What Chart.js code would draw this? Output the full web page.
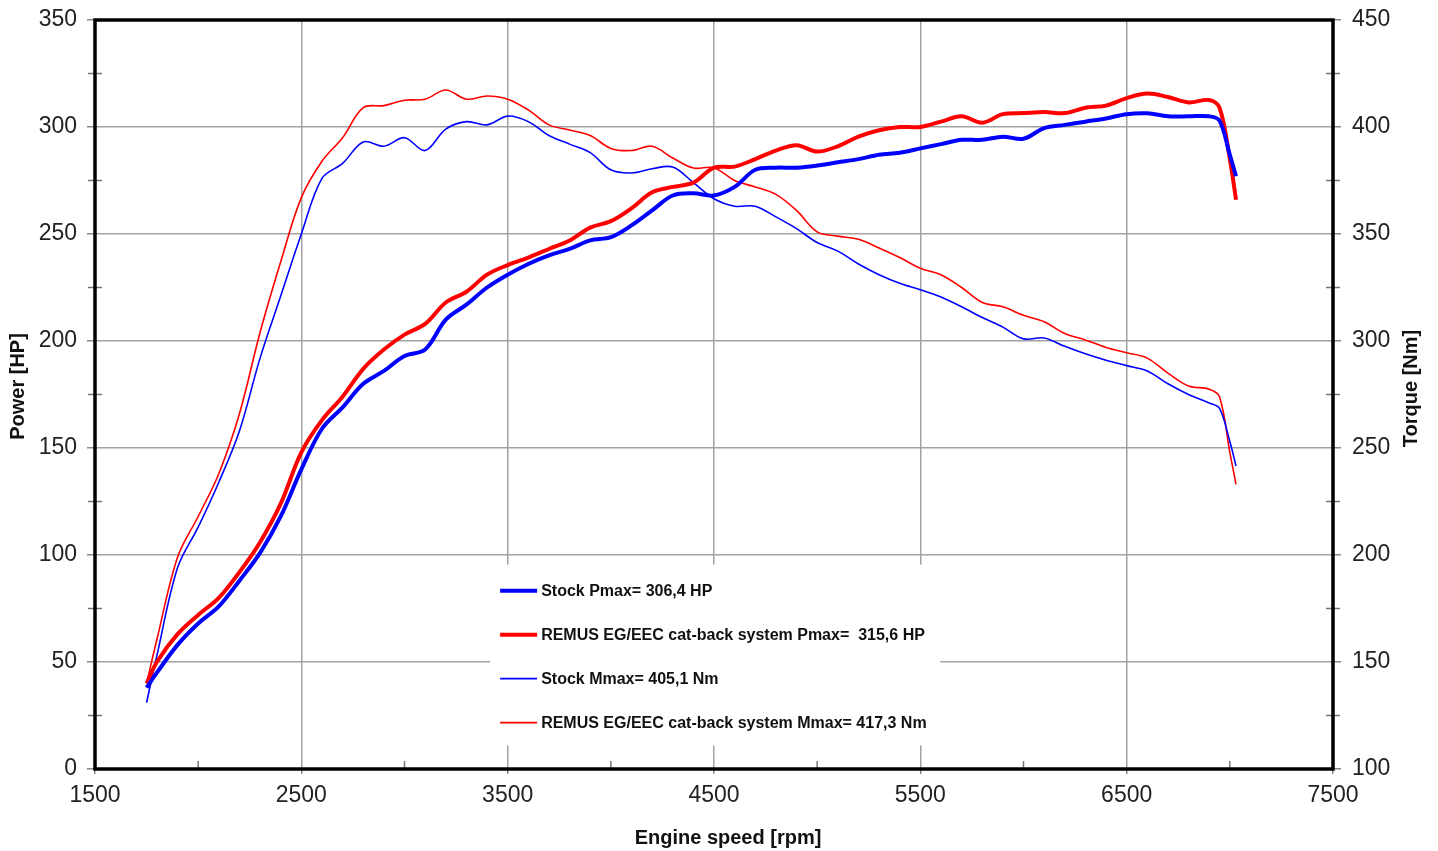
<!DOCTYPE html>
<html>
<head>
<meta charset="utf-8">
<script src="https://cdn.jsdelivr.net/npm/chart.js@4.4.1/dist/chart.umd.min.js"></script>
<style>
  html, body { margin: 0; padding: 0; background: #fff; }
  #wrap { width: 1438px; height: 851px; }
</style>
</head>
<body>
<div id="wrap"><canvas id="dyno" width="1438" height="851"></canvas></div>
<script>
// engine speed grid [rpm]
const rpm = [1750,1800,1900,2000,2100,2200,2300,2400,2500,2600,2700,2800,2900,3000,3100,3200,3300,3400,3500,3600,3700,3800,3900,4000,4100,4200,4300,4400,4500,4600,4700,4800,4900,5000,5100,5200,5300,5400,5500,5600,5700,5800,5900,6000,6100,6200,6300,6400,6500,6600,6700,6800,6900,6950,7000,7030];

// power [HP]
const stockPower = [38,45,58,68,76,88,101,118,140,159,169,180,186,193,196,210,217,225,231,236,240,243,247,248.5,254,261,268,269,268,272,280,281,281,282,283.5,285,287,288,290,292,294,294,295.5,294.5,299.5,301,302.5,304,306,306.4,305,305,305,303,287,277];
const remusPower = [40,50,63,72,80,92,106,124,148,163,174,187,196,203,208,218,223,231,235.5,239,243,247,253,256,262,269.5,272,274,281,281.5,285,289,291.5,288.5,291,295.5,298.5,300,300,302.5,305,302,306,306.5,307,306.5,309,310,313.5,315.6,314,311.5,312.6,309,285,266];

// torque [Nm]
const stockTorque = [131,153,194,213,234,258,292,321,350,376,383,393,391,395,389,399,402.5,401,405.1,402.5,396,392,388,380,378.5,380.5,381.3,374,366.5,363,363,358,352.5,346,342,336,331,327,324,320.6,316,311,306.5,301,301.4,297.5,294,291,288.5,286,280,275,271,268.5,253,241.6];
const remusTorque = [140,160.5,199,218,238,266,304,337,367,384,395,409,410,412.5,413,417.3,413,414.5,413,408,401,398.6,396,390,389,391,385.5,380.8,381,375,372,368.5,361,351,349,347.5,343.5,339,334,331,325,318,316,312,309,303.5,300.5,297,294.5,292,285,279,277.5,274,248,233];

// tick labels
const rpmTicks = [1500,2500,3500,4500,5500,6500,7500];
const powerTicks = [0,50,100,150,200,250,300,350];
const torqueTicks = [100,150,200,250,300,350,400,450];

const labels = [
  "Stock Pmax= 306,4 HP",
  "REMUS EG/EEC cat-back system Pmax=  315,6 HP",
  "Stock Mmax= 405,1 Nm",
  "REMUS EG/EEC cat-back system Mmax= 417,3 Nm"
];

const pts = (vals) => rpm.map((r, i) => ({ x: r, y: vals[i] }));
const FONT = "'Liberation Sans', Arial, Helvetica, sans-serif";
const GRID = "#a2a2a2";
const plain = (v) => String(v);

/* legend box, frame, minor ticks and the axis titles */
const overlay = {
  id: "overlay",
  beforeDatasetsDraw(chart) {
    const { ctx, scales: { x, y } } = chart;
    const bx = x.getPixelForValue(3415), by = y.getPixelForValue(95.5);
    ctx.save();
    ctx.fillStyle = "#fff";
    ctx.fillRect(bx, by, x.getPixelForValue(5597) - bx, y.getPixelForValue(11) - by);
    ctx.restore();
  },
  afterDraw(chart) {
    const { ctx, chartArea: a, scales: { x, y, y1 } } = chart;
    ctx.save();

    // legend entries
    const lx = x.getPixelForValue(3415) + 10;
    let ly = y.getPixelForValue(95.5) + 26;
    chart.data.datasets.forEach((ds) => {
      ctx.strokeStyle = ds.borderColor;
      ctx.lineWidth = ds.borderWidth;
      ctx.beginPath();
      ctx.moveTo(lx, ly);
      ctx.lineTo(lx + 37, ly);
      ctx.stroke();
      ctx.fillStyle = "#111";
      ctx.font = "bold 16px " + FONT;
      ctx.textBaseline = "middle";
      ctx.textAlign = "left";
      ctx.fillText(ds.label, lx + 41, ly + 1);
      ly += 44;
    });

    // minor ticks
    ctx.strokeStyle = "#777";
    ctx.lineWidth = 1.5;
    for (let i = 0; i < rpmTicks.length - 1; i++) {
      const px = x.getPixelForValue((rpmTicks[i] + rpmTicks[i + 1]) / 2);
      ctx.beginPath();
      ctx.moveTo(px, a.bottom);
      ctx.lineTo(px, a.bottom - 8);
      ctx.stroke();
    }
    for (let i = 0; i < powerTicks.length - 1; i++) {
      const py = y.getPixelForValue((powerTicks[i] + powerTicks[i + 1]) / 2);
      ctx.beginPath();
      ctx.moveTo(a.left - 7, py);
      ctx.lineTo(a.left + 7, py);
      ctx.stroke();
    }
    for (let i = 0; i < torqueTicks.length - 1; i++) {
      const py = y1.getPixelForValue((torqueTicks[i] + torqueTicks[i + 1]) / 2);
      ctx.beginPath();
      ctx.moveTo(a.right - 7, py);
      ctx.lineTo(a.right + 7, py);
      ctx.stroke();
    }

    // frame
    ctx.strokeStyle = "#000";
    ctx.lineWidth = 3.5;
    ctx.strokeRect(a.left, a.top, a.right - a.left, a.bottom - a.top);

    // axis titles
    ctx.fillStyle = "#111";
    ctx.font = "bold 20px " + FONT;
    ctx.textAlign = "center";
    ctx.textBaseline = "middle";
    ctx.fillText("Engine speed [rpm]", (a.left + a.right) / 2 + 14, 838);
    ctx.save();
    ctx.translate(18, (a.top + a.bottom) / 2 - 8);
    ctx.rotate(-Math.PI / 2);
    ctx.fillText("Power [HP]", 0, 0);
    ctx.restore();
    ctx.translate(1411, (a.top + a.bottom) / 2 - 6);
    ctx.rotate(-Math.PI / 2);
    ctx.fillText("Torque [Nm]", 0, 0);
    ctx.restore();
  }
};

const ctx = document.getElementById("dyno").getContext("2d");

new Chart(ctx, {
  type: "line",
  data: {
    datasets: [
      {
        label: labels[0],
        data: pts(stockPower),
        borderColor: "#0000ff",
        borderWidth: 4,
        yAxisID: "y"
      },
      {
        label: labels[1],
        data: pts(remusPower),
        borderColor: "#ff0000",
        borderWidth: 4,
        yAxisID: "y"
      },
      {
        label: labels[2],
        data: pts(stockTorque),
        borderColor: "#0000ff",
        borderWidth: 1.6,
        yAxisID: "y1"
      },
      {
        label: labels[3],
        data: pts(remusTorque),
        borderColor: "#ff0000",
        borderWidth: 1.6,
        yAxisID: "y1"
      }
    ]
  },
  options: {
    responsive: false,
    animation: false,
    devicePixelRatio: 1,
    layout: { padding: { top: 20, left: 0, right: 0, bottom: 0 } },
    elements: {
      point: { radius: 0 },
      line: { tension: 0.35, fill: false }
    },
    plugins: {
      legend: { display: false },
      tooltip: { enabled: false }
    },
    scales: {
      x: {
        type: "linear",
        min: 1500,
        max: 7500,
        afterBuildTicks: (s) => { s.ticks = rpmTicks.map((v) => ({ value: v })); },
        afterFit: (s) => { s.height = 82; s.paddingLeft = 0; s.paddingRight = 0; },
        grid: { color: GRID, lineWidth: 1.5, tickLength: 5, tickColor: "#888" },
        border: { display: false },
        ticks: { font: { size: 23, family: FONT }, color: "#222", padding: 8, maxRotation: 0, callback: plain }
      },
      y: {
        position: "left",
        min: 0,
        max: 350,
        afterBuildTicks: (s) => { s.ticks = powerTicks.map((v) => ({ value: v })); },
        afterFit: (s) => { s.width = 95; s.paddingTop = 0; s.paddingBottom = 0; },
        grid: { color: GRID, lineWidth: 1.5, tickLength: 8, tickColor: "#888" },
        border: { display: false },
        ticks: { font: { size: 23, family: FONT }, color: "#222", padding: 10, callback: plain }
      },
      y1: {
        position: "right",
        min: 100,
        max: 450,
        afterBuildTicks: (s) => { s.ticks = torqueTicks.map((v) => ({ value: v })); },
        afterFit: (s) => { s.width = 105; s.paddingTop = 0; s.paddingBottom = 0; },
        grid: { drawOnChartArea: false, tickLength: 8, tickColor: "#888", lineWidth: 1.5 },
        border: { display: false },
        ticks: { font: { size: 23, family: FONT }, color: "#222", padding: 11, callback: plain }
      }
    }
  },
  plugins: [overlay]
});
</script>
</body>
</html>
